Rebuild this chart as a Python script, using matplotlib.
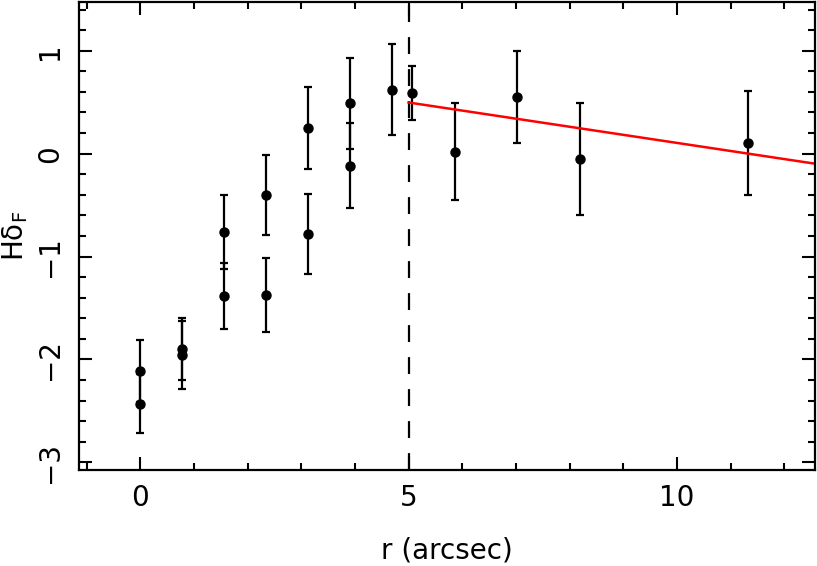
import matplotlib
matplotlib.use("Agg")
import matplotlib.pyplot as plt
from matplotlib.ticker import MultipleLocator

# radius (arcsec) and H-delta_F values with symmetric errors
r_inner = [0.00, 0.00, 0.78, 0.78, 1.56, 1.56, 2.35, 2.35, 3.13, 3.13, 3.91, 3.91, 4.69]
hd_inner = [-2.11, -2.43, -1.90, -1.955, -0.766, -1.383, -0.403, -1.377, 0.25, -0.779, 0.49, -0.117, 0.623]
err_inner = [0.30, 0.29, 0.30, 0.33, 0.36, 0.32, 0.385, 0.36, 0.395, 0.39, 0.44, 0.415, 0.44]

r_outer = [5.07, 5.86, 7.02, 8.19, 11.32]
hd_outer = [0.59, 0.019, 0.549, -0.055, 0.10]
err_outer = [0.265, 0.47, 0.445, 0.545, 0.505]

r_cut = 5.0
fit_x = [5.0, 12.6]
fit_y = [0.497, -0.100]

plt.rcParams["font.family"] = "DejaVu Sans"
plt.rcParams["mathtext.fontset"] = "dejavusans"

fig = plt.figure(figsize=(8.17, 5.66), dpi=100)
ax = fig.add_axes([79 / 817, 96 / 566, 736 / 817, 468 / 566])

ax.axvline(r_cut, color="black", lw=1.6, dashes=(7.6, 6.8))

r_all = r_inner + r_outer
hd_all = hd_inner + hd_outer
err_all = err_inner + err_outer
ax.errorbar(r_all, hd_all, yerr=err_all, fmt="o", color="black", ms=6.5,
            elinewidth=1.6, capsize=3, capthick=1.6)

ax.plot(fit_x, fit_y, color="red", lw=1.8)

ax.set_xlim(-1.14, 12.57)
ax.set_ylim(-3.075, 1.474)

ax.xaxis.set_major_locator(MultipleLocator(5))
ax.xaxis.set_minor_locator(MultipleLocator(1))
ax.yaxis.set_major_locator(MultipleLocator(1))
ax.yaxis.set_minor_locator(MultipleLocator(0.2))

ax.tick_params(which="both", direction="in", top=True, right=True, width=1.5, labelsize=20)
ax.tick_params(which="major", length=9.5)
ax.tick_params(which="minor", length=5)
ax.tick_params(axis="x", pad=10)
ax.tick_params(axis="y", pad=11)

for lab in ax.get_yticklabels():
    lab.set_rotation(90)
    lab.set_va("center")

for sp in ax.spines.values():
    sp.set_linewidth(1.6)

ax.set_xlabel("r (arcsec)", fontsize=20, labelpad=18)
ax.set_ylabel("Hδ$_{\\mathrm{F}}$", fontsize=20, labelpad=4)

fig.savefig("out.png", dpi=100)
